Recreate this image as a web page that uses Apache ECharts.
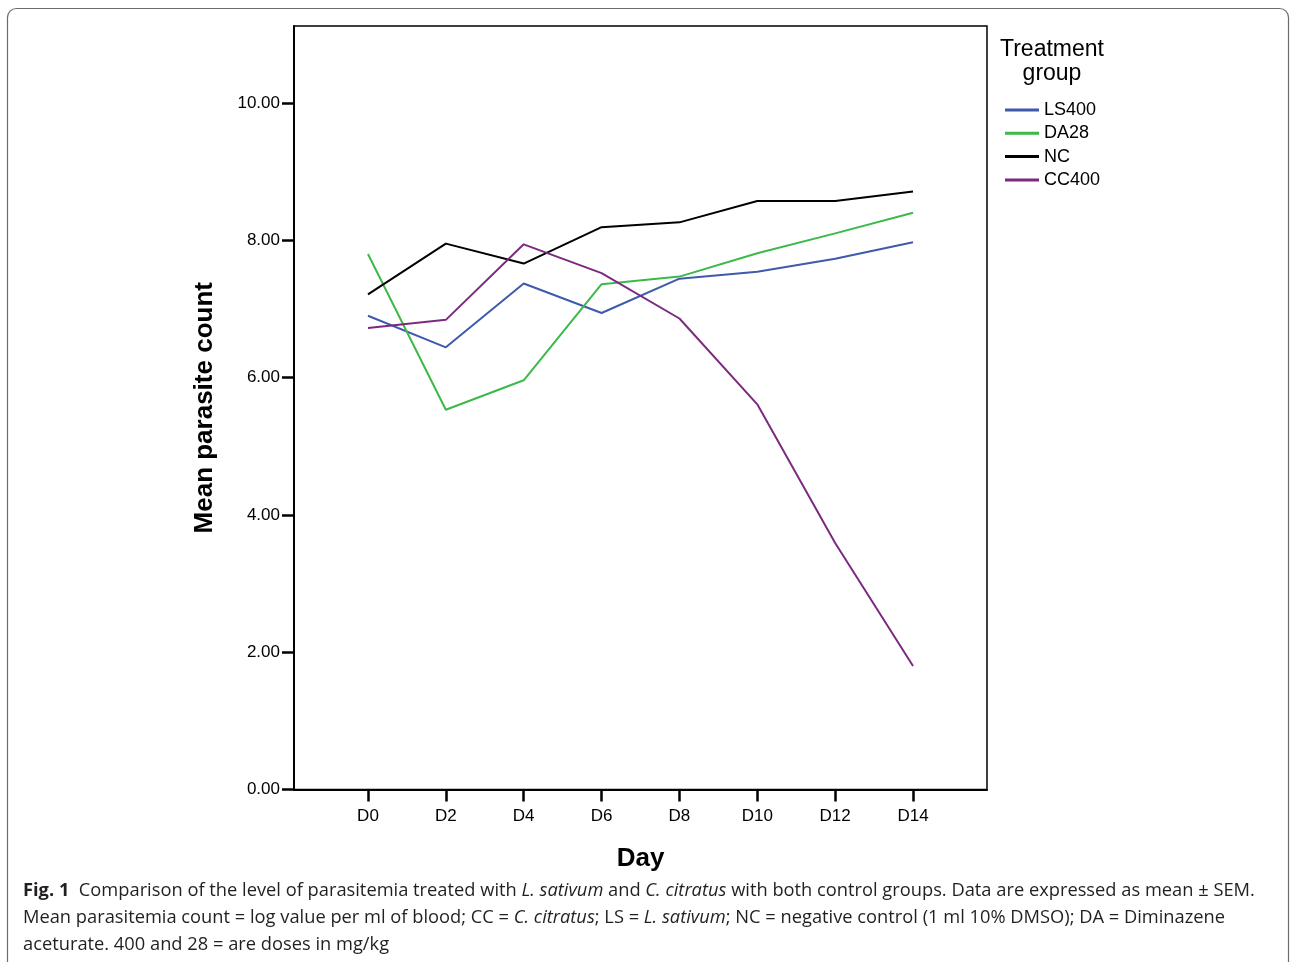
<!DOCTYPE html>
<html>
<head>
<meta charset="utf-8">
<script src="https://cdn.jsdelivr.net/npm/echarts@6/dist/echarts.min.js"></script>
<style>
  html, body { margin: 0; padding: 0; background: #fff; }
  #chart { width: 1292px; height: 962px; }
</style>
</head>
<body>
<div id="chart"></div>
<script>
// days on the x axis
var days = [0, 2, 4, 6, 8, 10, 12, 14];
var dayLabels = ['D0', 'D2', 'D4', 'D6', 'D8', 'D10', 'D12', 'D14'];
var yTicks = [0, 2, 4, 6, 8, 10];

// mean parasite count per group
var ls400 = [6.90, 6.44, 7.37, 6.94, 7.44, 7.54, 7.73, 7.97];
var da28 = [7.80, 5.53, 5.96, 7.36, 7.47, 7.81, 8.10, 8.40];
var nc = [7.21, 7.95, 7.66, 8.19, 8.26, 8.57, 8.57, 8.71];
var cc400 = [6.72, 6.84, 7.94, 7.52, 6.86, 5.61, 3.59, 1.80];

var groupNames = ['LS400', 'DA28', 'NC', 'CC400'];
var groupColors = ['#3f59ae', '#3bb94a', '#000000', '#7b2a80'];
var groupValues = [ls400, da28, nc, cc400];

function pairs(vals) {
    return days.map(function (d, i) { return [d, vals[i]]; });
}

var chart = echarts.init(document.getElementById('chart'));

var series = groupNames.map(function (name, i) {
    return {
        name: name,
        type: 'line',
        data: pairs(groupValues[i]),
        showSymbol: false,
        symbol: 'none',
        lineStyle: { width: 2, color: groupColors[i] },
        itemStyle: { color: groupColors[i] },
        emphasis: { disabled: true }
    };
});

var font = '"Liberation Sans", Arial, sans-serif';
var capFont = '"Open Sans", sans-serif';
var capSize = 18.3;

var option = {
    backgroundColor: '#fff',
    animation: false,
    grid: {
        left: 294, top: 26, right: 305, bottom: 172.5,
        show: true, borderColor: '#000', borderWidth: 1.5
    },
    legend: {
        orient: 'vertical',
        left: 1005, top: 100,
        padding: 0,
        icon: 'rect',
        itemWidth: 34, itemHeight: 3,
        itemGap: 3.3,
        textStyle: { fontFamily: font, fontSize: 18, color: '#000', lineHeight: 20 },
        data: groupNames
    },
    xAxis: {
        type: 'value',
        min: -1.9, max: 15.9,
        name: 'Day',
        nameLocation: 'middle',
        nameGap: 56,
        nameTextStyle: { fontFamily: font, fontSize: 26, fontWeight: 'bold', color: '#000' },
        axisLine: { show: true, onZero: false, lineStyle: { color: '#000', width: 2 } },
        axisTick: { show: true, length: 12, lineStyle: { color: '#000', width: 2.5 }, customValues: days },
        axisLabel: {
            customValues: days,
            margin: 18,
            fontFamily: font, fontSize: 17, color: '#000',
            formatter: function (v) { return dayLabels[days.indexOf(v)] || ''; }
        },
        splitLine: { show: false }
    },
    yAxis: {
        type: 'value',
        min: 0, max: 11.12,
        name: 'Mean parasite count',
        nameLocation: 'middle',
        nameGap: 76,
        nameTextStyle: { fontFamily: font, fontSize: 26, fontWeight: 'bold', color: '#000' },
        axisLine: { show: true, onZero: false, lineStyle: { color: '#000', width: 2 } },
        axisTick: { show: true, length: 12, lineStyle: { color: '#000', width: 2.5 }, customValues: yTicks },
        axisLabel: {
            customValues: yTicks,
            margin: 14,
            fontFamily: font, fontSize: 17, color: '#000',
            formatter: function (v) { return v.toFixed(2); }
        },
        splitLine: { show: false }
    },
    graphic: [
        {
            type: 'rect',
            shape: { x: 7.5, y: 8.5, width: 1281, height: 970, r: 9 },
            style: { fill: 'none', stroke: '#6b6b6b', lineWidth: 1.2 },
            z: -1
        },
        {
            type: 'text',
            x: 1052, y: 38,
            style: {
                text: 'Treatment\ngroup',
                align: 'center',
                verticalAlign: 'top',
                font: '23px ' + font,
                lineHeight: 24,
                fill: '#000'
            }
        },
        {
            type: 'text',
            left: 23, top: 882,
            style: {
                text: '{b|Fig. 1}  Comparison of the level of parasitemia treated with {i|L. sativum} and {i|C. citratus} with both control groups. Data are expressed as mean \u00b1 SEM.',
                font: capSize + 'px ' + capFont,
                fill: '#231f20',
                rich: {
                    b: { fontFamily: capFont, fontSize: capSize, fontWeight: 'bold', color: '#231f20' },
                    i: { fontFamily: capFont, fontSize: capSize, fontStyle: 'italic', color: '#231f20' }
                }
            }
        },
        {
            type: 'text',
            left: 23, top: 909,
            style: {
                text: 'Mean parasitemia count = log value per ml of blood; CC = {i|C. citratus}; LS = {i|L. sativum}; NC = negative control (1 ml 10% DMSO); DA = Diminazene',
                font: capSize + 'px ' + capFont,
                fill: '#231f20',
                rich: {
                    i: { fontFamily: capFont, fontSize: capSize, fontStyle: 'italic', color: '#231f20' }
                }
            }
        },
        {
            type: 'text',
            left: 23, top: 936,
            style: {
                text: 'aceturate. 400 and 28 = are doses in mg/kg',
                font: capSize + 'px ' + capFont,
                fill: '#231f20'
            }
        }
    ],
    series: series
};

chart.setOption(option);
</script>
</body>
</html>
